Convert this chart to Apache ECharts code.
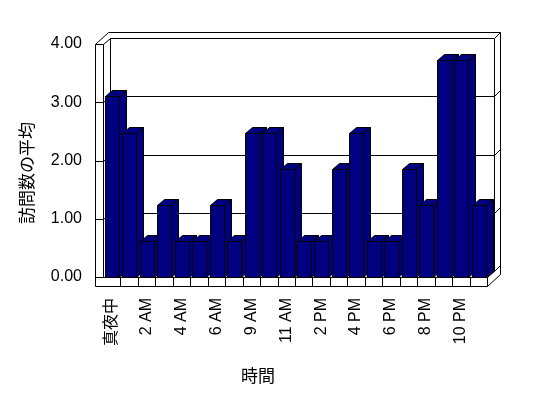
<!DOCTYPE html>
<html>
<head>
<meta charset="utf-8">
<script src="https://cdn.jsdelivr.net/npm/echarts@6/dist/echarts.min.js"></script>
<style>
  html, body { margin: 0; padding: 0; background: #fff; }
  #chart { width: 548px; height: 398px; }
</style>
</head>
<body>
<div id="chart"></div>
<script>
// データ
var hours = ['真夜中', '1 AM', '2 AM', '3 AM', '4 AM', '5 AM', '6 AM', '7 AM', '9 AM', '10 AM', '11 AM',
  '正午', '2 PM', '3 PM', '4 PM', '5 PM', '6 PM', '7 PM', '8 PM', '9 PM', '10 PM', '11 PM'];
var visits = [3.10, 2.48, 0.62, 1.23, 0.62, 0.62, 1.23, 0.62, 2.48, 2.48, 1.85,
  0.62, 0.62, 1.85, 2.48, 0.62, 0.62, 1.85, 1.23, 3.72, 3.72, 1.23];
var valueTicks = [0, 1, 2, 3, 4];

var font = "'Liberation Sans', 'Noto Sans CJK JP', sans-serif";
var DX = 7, DY = -6;   // 奥行き
var TX = 6, TY = -6;   // 壁の厚さ
var WL = 8, FB = 9;    // 左の壁, 床

function h(v) { return Math.round(v) + 0.5; }
function line(pts) {
  return {
    type: 'polyline',
    shape: { points: pts.map(function (p) { return [h(p[0]), h(p[1])]; }) },
    style: { stroke: '#000', fill: null, lineWidth: 1 }
  };
}

var myChart = echarts.init(document.getElementById('chart'));

function renderFrame(params, api) {
  var cs = params.coordSys;
  var x0 = cs.x, x1 = cs.x + cs.width, yT = cs.y, yB = cs.y + cs.height;
  var w = cs.width / hours.length;
  var kids = [];
  // 外枠
  kids.push(line([[x0 - WL, yT], [x0 - WL + DX + TX, yT + DY + TY], [x1 + DX + TX, yT + DY + TY],
    [x1 + DX + TX, yB + FB + DY + TY], [x1, yB + FB], [x0 - WL, yB + FB], [x0 - WL, yT]]));
  // 左の壁
  kids.push(line([[x0 - WL, yT], [x0, yT], [x0, yB]]));
  kids.push(line([[x0, yT], [x0 + DX, yT + DY]]));
  kids.push(line([[x0 - WL, yB], [x0, yB]]));
  // 奥の壁
  kids.push(line([[x0 + DX, yB + DY], [x0 + DX, yT + DY], [x1 + DX, yT + DY], [x1 + DX, yB + DY], [x0 + DX, yB + DY]]));
  kids.push(line([[x1 + DX, yT + DY], [x1 + DX + TX, yT + DY + TY]]));
  // 床
  kids.push(line([[x0, yB], [x1, yB], [x1, yB + FB]]));
  kids.push(line([[x1, yB], [x1 + DX, yB + DY], [x1 + DX + TX, yB + DY + TY]]));
  // 目盛線
  valueTicks.forEach(function (v) {
    if (v === 0 || v === valueTicks[valueTicks.length - 1]) return;
    var y = api.coord([0, v])[1];
    kids.push(line([[x0 - WL, y], [x0, y], [x0 + DX, y + DY], [x1 + DX, y + DY], [x1 + DX + TX, y + DY + TY]]));
  });
  for (var i = 1; i < hours.length; i++) {
    kids.push(line([[x0 + i * w, yB], [x0 + i * w, yB + FB]]));
  }
  return { type: 'group', children: kids };
}

function renderBar(params, api) {
  var c = api.coord([api.value(0), api.value(1)]);
  var base = api.coord([api.value(0), 0]);
  var l = h(c[0] - 6.7), r = l + 14;
  var yt = h(c[1]), yb = h(base[1]);
  var st = { fill: '#000080', stroke: '#000', lineWidth: 1 };
  return {
    type: 'group',
    children: [
      { type: 'polygon', shape: { points: [[r, yt], [r + DX, yt + DY], [r + DX, yb + DY], [r, yb]] }, style: st },
      { type: 'polygon', shape: { points: [[l, yt], [l + DX, yt + DY], [r + DX, yt + DY], [r, yt]] }, style: st },
      { type: 'polygon', shape: { points: [[l, yt], [r, yt], [r, yb], [l, yb]] }, style: st }
    ]
  };
}

var option = {
  animation: false,
  backgroundColor: '#fff',
  grid: { left: 103, right: 61, top: 44, bottom: 121 },
  xAxis: {
    type: 'category',
    data: hours,
    axisLine: { show: false },
    axisTick: { show: false },
    axisLabel: { interval: 1, rotate: 90, margin: 21, color: '#000', fontSize: 16, fontFamily: font }
  },
  yAxis: {
    type: 'value',
    min: 0,
    max: 4,
    interval: 1,
    axisLine: { show: false },
    axisTick: { show: false },
    splitLine: { show: false },
    axisLabel: {
      margin: 21, color: '#000', fontSize: 16, fontFamily: font,
      formatter: function (v) { return v.toFixed(2); }
    }
  },
  graphic: [
    { type: 'text', x: 258, y: 377, style: { text: '時間', fontSize: 17, fontFamily: font, fill: '#000', align: 'center', verticalAlign: 'middle' } },
    { type: 'text', x: 28, y: 173, rotation: Math.PI / 2, style: { text: '訪問数の平均', fontSize: 17, fontFamily: font, fill: '#000', align: 'center', verticalAlign: 'middle' } }
  ],
  series: [
    { type: 'custom', z: 1, clip: false, silent: true, renderItem: renderFrame, data: [[0, 0]] },
    {
      type: 'custom', z: 2, clip: false, renderItem: renderBar,
      data: visits.map(function (v, i) { return [i, v]; })
    }
  ]
};
myChart.setOption(option);
</script>
</body>
</html>
